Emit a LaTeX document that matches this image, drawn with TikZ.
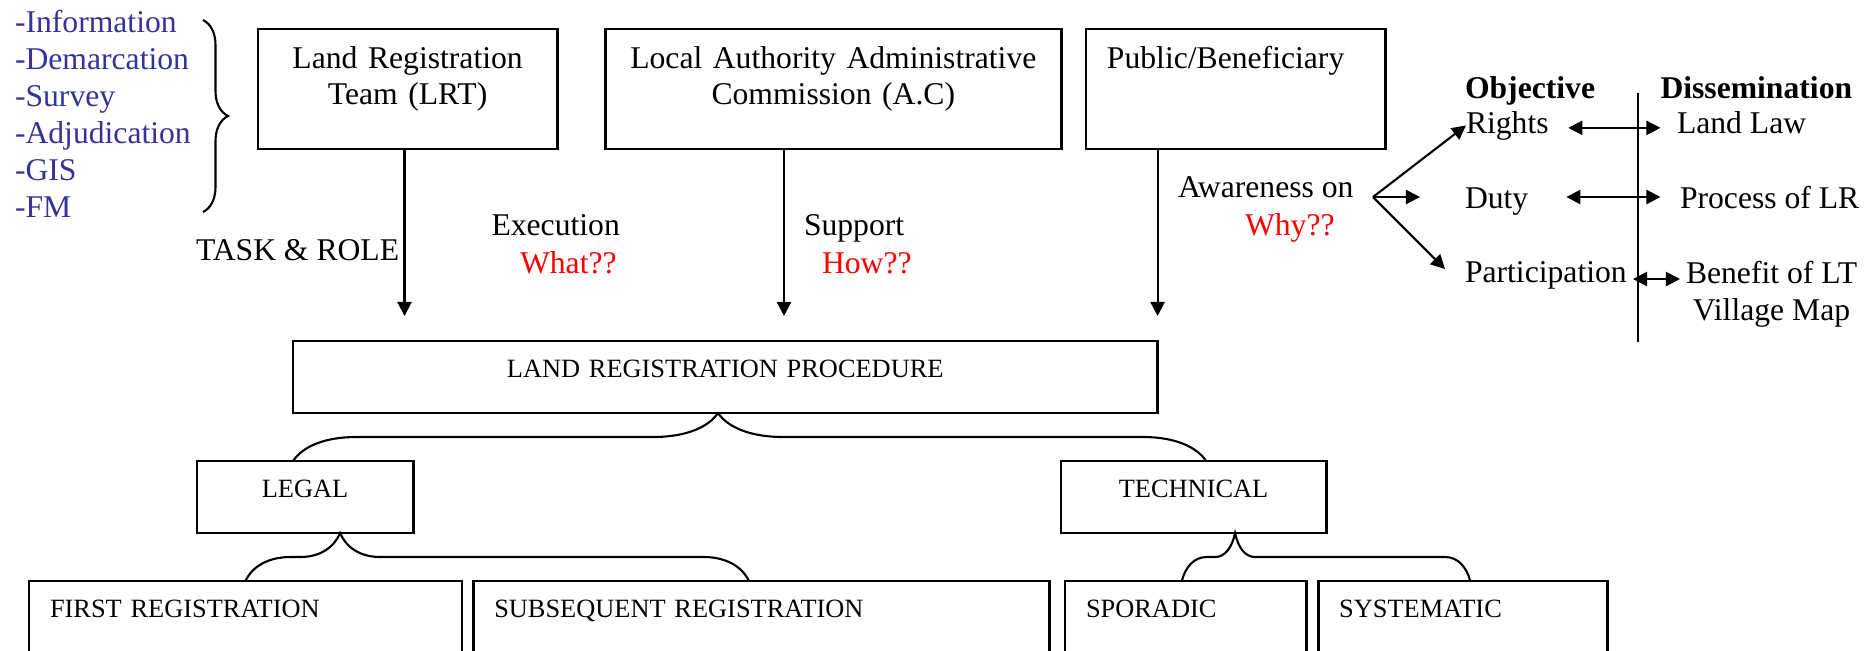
\documentclass[tikz,border=0pt]{standalone}
\usepackage{fontspec}
\setmainfont{Liberation Serif}
\usepackage{xcolor}
\usetikzlibrary{arrows.meta,positioning,calc,decorations.pathreplacing}
\definecolor{listblue}{RGB}{51,51,153}

\begin{document}
\begin{tikzpicture}[
        x=0.01cm, y=-0.01cm,
        font=\fontsize{9}{10.5}\selectfont,
        >={Triangle[length=4pt,width=4pt]},
        actor/.style={rectangle,draw,line width=0.8pt,outer sep=0pt,inner xsep=0pt,inner ysep=0pt,align=center,text height=0.39cm,text depth=0.81cm},
        stage/.style={rectangle,draw,line width=0.8pt,outer sep=0pt,inner sep=0pt,align=center,font=\fontsize{7.5}{9}\selectfont,text height=0.36cm,text depth=0.36cm},
        leaf/.style={stage,align=left,inner xsep=0.21cm,text depth=1cm},
        lbl/.style={inner sep=0pt,outer sep=0pt,anchor=base west},
        why/.style={lbl,text=red},
        head/.style={lbl,font=\fontsize{9}{10.5}\selectfont\bfseries},
        arrow/.style={->,line width=0.6pt},
        both/.style={<->,line width=0.6pt},
        curl/.style={line width=0.6pt}
    ]
    \useasboundingbox (0,0) rectangle (1865,650);
    \clip (0,0) rectangle (1865,650);

    % actors
    \node[actor,anchor=north west,text width=2.99cm] (lrt) at (258,29) {Land Registration\\Team (LRT)};
    \node[actor,right=0.48cm of lrt,text width=4.56cm] (ac) {Local Authority Administrative\\Commission (A.C)};
    \node[actor,right=0.245cm of ac,text width=2.575cm,align=left,inner xsep=0.21cm] (public) {Public/Beneficiary};

    % procedure tree
    \node[stage,anchor=north west,text width=8.64cm] (proc) at (293,341) {LAND REGISTRATION PROCEDURE};
    \node[stage,anchor=north west,text width=2.16cm] (legal) at (197,461) {LEGAL};
    \node[stage,anchor=north west,text width=2.65cm] (tech) at (1061,461) {TECHNICAL};

    \node[leaf,anchor=north west,text width=3.907cm] (first) at (29,581) {FIRST REGISTRATION};
    \node[leaf,right=0.113cm of first,text width=5.34cm] (subseq) {SUBSEQUENT REGISTRATION};
    \node[leaf,anchor=north west,text width=1.99cm] (sporadic) at (1065,581) {SPORADIC};
    \node[leaf,right=0.12cm of sporadic,text width=2.47cm] (system) {SYSTEMATIC};

    % labels
    \node[lbl,text=listblue,align=left] (tasks) at (15,217) {-Information\\-Demarcation\\-Survey\\-Adjudication\\-GIS\\-FM};
    \node[lbl] (task) at (196,260) {TASK \& ROLE};
    \node[lbl] (exec) at (491.5,235) {Execution};
    \node[why] (what) at (520,273) {What??};
    \node[lbl] (support) at (804,235) {Support};
    \node[why] (how) at (822,273) {How??};
    \node[lbl] (aware) at (1178,197) {Awareness on};
    \node[why] (whyq) at (1245,235) {Why??};

    \node[head] (obj) at (1465,98) {Objective};
    \node[head] (diss) at (1660.5,98) {Dissemination};
    \node[lbl] (rights) at (1466,133) {Rights};
    \node[lbl] (landlaw) at (1677,133) {Land Law};
    \node[lbl] (duty) at (1465,208) {Duty};
    \node[lbl] (process) at (1680,208) {Process of LR};
    \node[lbl] (partic) at (1465,282) {Participation};
    \node[lbl,align=center] (benefit) at (1686,320) {Benefit of LT\\Village Map};

    % connectors
    \coordinate (lrtin) at (404.5,316);
    \coordinate (acin) at (784,316);
    \coordinate (pubin) at (1157.6,316);
    \draw[arrow] (lrt.south -| lrtin) -- (lrtin);
    \draw[arrow] (ac.south -| acin) -- (acin);
    \draw[arrow] (public.south -| pubin) -- (pubin);

    \coordinate (fork) at (1373,197);
    \coordinate (dutyin) at (1420,197);
    \coordinate (particin) at (1445,269);
    \draw[arrow] (fork) -- (rights.west);
    \draw[arrow] (fork) -- (dutyin);
    \draw[arrow] (fork) -- (particin);

    \coordinate (divtop) at (1638,93);
    \coordinate (divbot) at (1638,342);
    \draw[line width=0.6pt] (divtop) -- (divbot);
    \draw[both,shorten <=0.196cm,shorten >=0.165cm] ([yshift=-0.024cm]rights.east) -- ([yshift=-0.024cm]rights.east -| landlaw.west);
    \draw[both,shorten <=0.38cm,shorten >=0.195cm] (duty.east |- fork) -- (fork -| process.west);
    \coordinate (partout) at (1633,279);
    \draw[both,shorten >=0.06cm] (partout) -- (partout -| benefit.west);

    % braces
    \draw[curl,decorate,decoration={brace,amplitude=0.25cm}] (203,20) -- (203,212);
    \draw[curl] ([xshift=-0.12cm]legal.north) .. controls +(9.5,-14.4) and +(-31.5,0) .. ++(63,-24)
        -- ++(297,0) .. controls +(32.5,0) and +(-9.75,14.4) .. ++(65,-24)
        .. controls +(9.75,14.4) and +(-32.5,0) .. ++(65,24)
        -- ++(360,0) .. controls +(31.5,0) and +(-9.5,-14.4) .. ([xshift=0.125cm]tech.north);
    \draw[curl] (first.north) .. controls +(6.75,-14.4) and +(-22.5,0) .. ++(45,-24)
        -- ++(9.65,0) .. controls +(20,0) and +(-6,14.4) .. ++(40,-24)
        .. controls +(6,14.4) and +(-20,0) .. ++(40,24)
        -- ++(323.5,0) .. controls +(22.5,0) and +(-6.75,-14.4) .. ([xshift=-0.125cm]subseq.north);
    \draw[curl] ([xshift=-0.038cm]sporadic.north) .. controls +(3.75,-14.4) and +(-12.5,0) .. ++(25,-24)
        -- ++(8.3,0) .. controls +(10,0) and +(-3,14.4) .. ++(20,-24)
        .. controls +(3,14.4) and +(-10,0) .. ++(20,24)
        -- ++(190,0) .. controls +(12.5,0) and +(-3.75,-14.4) .. ([xshift=0.075cm]system.north);
\end{tikzpicture}
\end{document}
